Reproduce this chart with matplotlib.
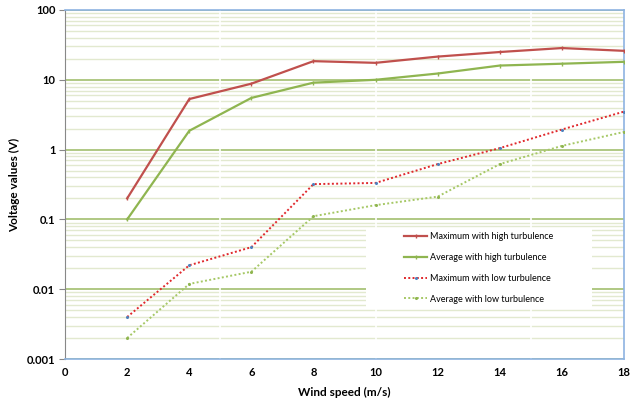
import numpy as np
import matplotlib
matplotlib.use("Agg")
import matplotlib.pyplot as plt
from matplotlib.ticker import FixedLocator, FuncFormatter
from matplotlib.patches import Rectangle

plt.rcParams['font.family'] = ['Lato', 'DejaVu Sans']

# Data
wind_speed = [2, 4, 6, 8, 10, 12, 14, 16, 18]
max_high = [0.2, 5.3, 8.8, 18.5, 17.5, 21.5, 25, 28.5, 26]
avg_high = [0.1, 1.86, 5.5, 9.1, 10, 12.3, 16, 17, 18.1]
max_low = [0.004, 0.022, 0.04, 0.32, 0.333, 0.62, 1.05, 1.94, 3.5]
avg_low = [0.002, 0.0119, 0.0178, 0.111, 0.16, 0.212, 0.62, 1.13, 1.79]

x_ticks = [0, 2, 4, 6, 8, 10, 12, 14, 16, 18]
y_ticks = [0.001, 0.01, 0.1, 1, 10, 100]

fig = plt.figure(figsize=(6.38, 4.0), dpi=100)
ax = fig.add_axes([0.102, 0.1025, 0.876, 0.8725])
ax.set_yscale('log')
ax.set_xlim(0, 18)
ax.set_ylim(0.001, 100)

# gridlines: light minor, greener major
minor = [m * 10.0 ** e for e in range(-3, 2) for m in range(2, 10)]
for v in minor:
    ax.axhline(v, color='#e2e9cf', lw=1.0, zorder=0)
for v in y_ticks:
    ax.axhline(v, color='#a9c47a', lw=1.3, zorder=0.5)
for v in [5, 10, 15]:
    ax.axvline(v, color='white', lw=1.2, zorder=0.8)

# white legend box behind the legend entries
ax.add_patch(Rectangle((0.538, 0.149), 0.405, 0.223, transform=ax.transAxes,
                       facecolor='white', edgecolor='none', zorder=1))

ax.plot(wind_speed, max_high, color='#c0504d', lw=1.6, marker='|', ms=2.5,
        label='Maximum with high turbulence', zorder=3)
ax.plot(wind_speed, avg_high, color='#8fb550', lw=1.6, marker='|', ms=2.5,
        label='Average with high turbulence', zorder=3)
ax.plot(wind_speed, max_low, color='#e0282c', lw=1.4, ls=(0, (1, 1.2)),
        marker='o', ms=1.2, mfc='#4f81bd', mec='#4f81bd',
        label='Maximum with low turbulence', zorder=3)
ax.plot(wind_speed, avg_low, color='#a6c866', lw=1.4, ls=(0, (1, 1.2)),
        marker='o', ms=1.2, mfc='#8fb550', mec='#8fb550',
        label='Average with low turbulence', zorder=3)

ax.xaxis.set_major_locator(FixedLocator(x_ticks))
ax.yaxis.set_major_locator(FixedLocator(y_ticks))
ax.yaxis.set_minor_locator(FixedLocator([]))
ax.yaxis.set_major_formatter(FuncFormatter(lambda v, p: '%g' % v))
ax.tick_params(axis='both', labelsize=8, length=0, pad=6)
ax.tick_params(axis='y', length=4, color='#888888', pad=3)
for lab in ax.get_xticklabels() + ax.get_yticklabels():
    lab.set_fontweight('bold')

for s in ['top', 'right', 'bottom']:
    ax.spines[s].set_color('#8db3e2')
    ax.spines[s].set_linewidth(1.2)
ax.spines['left'].set_color('#888888')

ax.set_xlabel('Wind speed (m/s)', fontsize=8.5, fontweight='bold', labelpad=6)
ax.set_ylabel('Voltage values (V)', fontsize=8.5, fontweight='bold', labelpad=5)

leg = ax.legend(loc='center', bbox_to_anchor=(0.740, 0.261),
                fontsize=6.5, frameon=False, handlelength=2.6,
                labelspacing=1.3, borderaxespad=0, handletextpad=0.3)
leg.set_zorder(2)

plt.savefig('out.png', dpi=100)
